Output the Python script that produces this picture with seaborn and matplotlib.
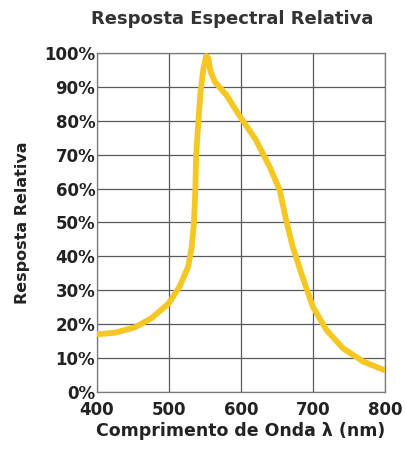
import numpy as np
import pandas as pd
import matplotlib
matplotlib.use("Agg")
import matplotlib.pyplot as plt
import seaborn as sns

# values
wavelength = [402, 425, 453, 476, 500, 515, 527, 532, 535, 537, 538, 541, 544,
              548, 552, 555, 558, 564, 572, 580, 590, 600, 621, 640, 654, 663,
              672, 684, 700, 719, 742, 770, 799]
response = [17.0, 17.4, 19.0, 21.7, 26.1, 31.0, 36.9, 42.9, 49.8, 59.6, 69.5,
            79.3, 88.2, 95.1, 99.2, 98.5, 94.6, 91.6, 89.6, 87.7, 84.3, 81.0,
            74.4, 66.5, 59.6, 50.7, 42.9, 35.0, 25.1, 18.2, 12.8, 8.9, 6.4]
x_ticks = [400, 500, 600, 700, 800]
y_ticks = list(range(0, 101, 10))

df = pd.DataFrame({"wavelength": wavelength, "response": response})

sns.set_style("white")
plt.rcParams["font.family"] = ["DejaVu Sans"]

fig = plt.figure(figsize=(4.06, 4.5), dpi=100)
ax = fig.add_axes([0.238, 0.1296, 0.71, 0.752])

sns.lineplot(data=df, x="wavelength", y="response", ax=ax, color="#F5C722",
             linewidth=4.2, solid_capstyle="round", solid_joinstyle="round",
             zorder=3)

ax.set_xlim(400, 800)
ax.set_ylim(0, 100)
ax.set_xticks(x_ticks)
ax.set_yticks(y_ticks)
ax.set_xticklabels([str(t) for t in x_ticks], fontsize=12, fontweight="bold",
                   color="#222222")
ax.set_yticklabels([f"{t}%" for t in y_ticks], fontsize=12, fontweight="bold",
                   color="#222222")
ax.tick_params(axis="x", length=0, pad=7)
ax.tick_params(axis="y", length=0, pad=1)
ax.grid(True, color="#595959", linewidth=0.9)
for s in ax.spines.values():
    s.set_color("#777777")
    s.set_linewidth(0.9)

ax.set_xlabel("Comprimento de Onda λ (nm)", fontsize=12.5, fontweight="bold",
              color="#222222", labelpad=2)
ax.set_ylabel("Resposta Relativa", fontsize=11.5, fontweight="bold",
              color="#222222", labelpad=10)
ax.set_title("Resposta Espectral Relativa", fontsize=13, fontweight="bold",
             color="#333333", pad=21, x=0.47)

fig.savefig("out.png", dpi=100)
